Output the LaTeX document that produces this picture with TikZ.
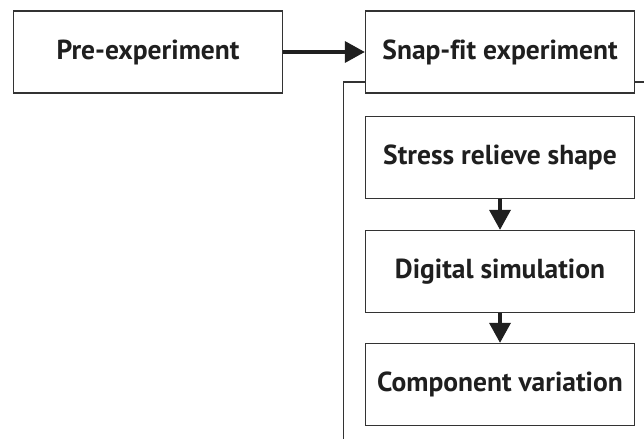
\documentclass[tikz,border=0pt]{standalone}
\usepackage{fontspec}
\setmainfont[Ligatures=NoCommon]{PT Sans}
\usetikzlibrary{arrows.meta}
\begin{document}
\begin{tikzpicture}[x=1pt,y=-1pt,
  box/.style={draw=black!80,line width=1.3pt,fill=white,minimum width=269pt,minimum height=82pt,inner sep=0pt,font=\fontsize{27.5}{32}\selectfont\bfseries,text=black!88},
  flow/.style={draw=black!88,line width=3.5pt,-{Triangle[length=20pt,width=21pt]}},
  rail/.style={draw=black!80,line width=1.3pt}]
\useasboundingbox (0,0) rectangle (644,439);
\node[box] (pre) at (148,52) {Pre-experiment};
\node[box] (snap) at (500,52) {Snap-fit experiment};
\node[box] (stress) at (500,157.5) {Stress relieve shape};
\node[box] (digital) at (500,271.5) {Digital simulation};
\node[box] (comp) at (500,384.5) {Component variation};
\coordinate (lc) at (343.5,82);
\coordinate (lb) at (343.5,439);
\coordinate (rc) at (644,82);
\draw[flow] (pre.east) -- (snap.west);
\draw[rail] (snap.west |- lc) -- (lc) -- (lb);
\draw[rail] (snap.east |- rc) -- (rc);
\draw[flow] (stress.south) -- (digital.north);
\draw[flow] (digital.south) -- (comp.north);
\end{tikzpicture}
\end{document}
